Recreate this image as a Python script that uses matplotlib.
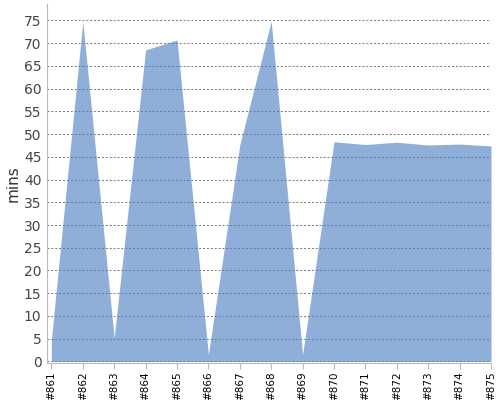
import numpy as np
import matplotlib
matplotlib.use('Agg')
import matplotlib.pyplot as plt

# build numbers on the x axis
builds = ['#861', '#862', '#863', '#864', '#865', '#866', '#867', '#868',
          '#869', '#870', '#871', '#872', '#873', '#874', '#875']
# duration per build in minutes
durations = [4.8, 74.7, 5.2, 68.5, 70.7, 1.5, 47.6, 74.8,
             1.5, 48.3, 47.7, 48.2, 47.6, 47.8, 47.4]
yticks = list(range(0, 80, 5))

x = np.arange(len(builds))

fig = plt.figure(figsize=(5, 4), dpi=100)
ax = fig.add_axes([0.094, 0.093, 0.888, 0.897])

ax.fill_between(x, durations, 0, color='#4a7fc1', alpha=0.62, linewidth=0, zorder=2)

ax.set_xlim(-0.14, 14)
ax.set_ylim(-0.3, 78.6)
ax.set_xticks(x)
ax.set_xticklabels(builds, rotation=90, fontsize=7.5, color='black')
ax.set_yticks(yticks)
ax.set_yticklabels([str(v) for v in yticks], fontsize=10, color='#444444')
ax.set_ylabel('mins', fontsize=11, color='#333333', labelpad=2)

ax.grid(axis='y', linestyle=(0, (2, 2)), color='#777777', linewidth=0.7, zorder=1)
ax.set_axisbelow(True)

for side in ['top', 'right']:
    ax.spines[side].set_visible(False)
for side in ['left', 'bottom']:
    ax.spines[side].set_color('#bbbbbb')
ax.tick_params(axis='y', length=0, pad=4)
ax.tick_params(axis='x', length=4, color='#bbbbbb', pad=2)

fig.savefig('out.png', dpi=100)
